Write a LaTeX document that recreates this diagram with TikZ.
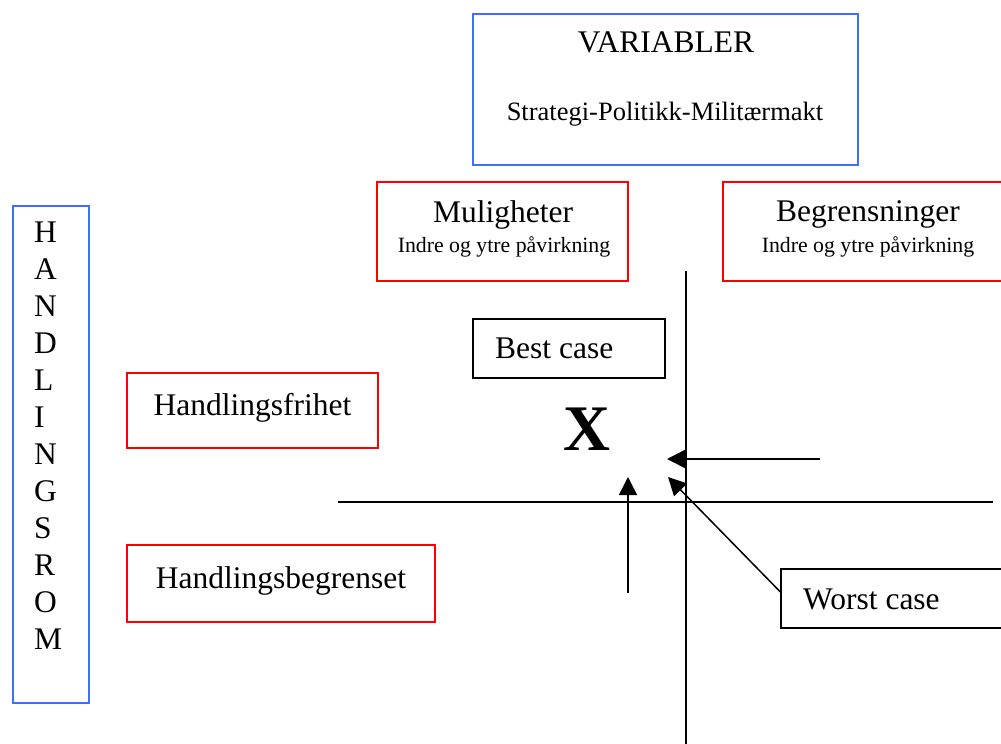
\documentclass[tikz,border=0pt]{standalone}
\usepackage{fontspec}
\setmainfont{Liberation Serif}
\usetikzlibrary{arrows.meta,calc}
\definecolor{boxred}{RGB}{255,0,0}
\definecolor{boxblue}{RGB}{60,110,255}
\begin{document}
\begin{tikzpicture}[x=1pt,y=-1pt,
  redbox/.style={draw=boxred,line width=2pt,inner sep=0pt},
  bluebox/.style={draw=boxblue,line width=2pt,inner sep=0pt},
  blackbox/.style={draw=black,line width=1.5pt,inner sep=0pt},
  bigtxt/.style={inner sep=0pt,font=\fontsize{31.5}{37}\selectfont},
  midtxt/.style={inner sep=0pt,font=\fontsize{26.5}{31}\selectfont},
  smalltxt/.style={inner sep=0pt,font=\fontsize{21.8}{26}\selectfont},
  xtxt/.style={inner sep=0pt,font=\fontsize{65}{70}\selectfont\bfseries},
  axis/.style={line width=1.5pt},
  arr/.style={line width=1.5pt,-{Triangle[length=18pt,width=18pt]}}
]
\useasboundingbox (0,0) rectangle (1001,744);
\clip (0,0) rectangle (1001,744);

% boxes
\node[bluebox,minimum width=385pt,minimum height=151pt] (var) at (665.5,89.5) {};
\node[redbox,minimum width=251pt,minimum height=99pt] (mul) at (502.5,231.5) {};
\node[redbox,minimum width=290pt,minimum height=99pt] (beg) at (868,231.5) {};
\node[bluebox,minimum width=76pt,minimum height=497pt] (hrom) at (51,454.5) {};
\node[blackbox,minimum width=192pt,minimum height=59pt] (best) at (569,348.5) {};
\node[redbox,minimum width=251pt,minimum height=75pt] (frihet) at (252.5,410.5) {};
\node[redbox,minimum width=308pt,minimum height=77pt] (begr) at (281,583.5) {};
\node[blackbox,minimum width=234pt,minimum height=59pt] (worst) at (898,598.5) {};

% texts
\node[bigtxt,anchor=base] (vart) at (666,52) {VARIABLER};
\node[midtxt,anchor=base] (vars) at (665,120) {Strategi-Politikk-Militærmakt};
\node[bigtxt,anchor=base] (mult) at (503,222) {Muligheter};
\node[smalltxt,anchor=base] (muls) at (504,252) {Indre og ytre påvirkning};
\node[bigtxt,anchor=base] (begt) at (868,221) {Begrensninger};
\node[smalltxt,anchor=base] (begs) at (868,252) {Indre og ytre påvirkning};
\node[bigtxt,anchor=north west,align=left] (hromt) at (34,222)
  {H\\A\\N\\D\\L\\I\\N\\G\\S\\R\\O\\M};
\node[bigtxt,anchor=base west] (bestt) at (495,358) {Best case};
\node[bigtxt,anchor=base] (frihett) at (252.5,415) {Handlingsfrihet};
\node[bigtxt,anchor=base] (begrt) at (281,588) {Handlingsbegrenset};
\node[bigtxt,anchor=base west] (worstt) at (803,609) {Worst case};
\node[xtxt,anchor=base] (xmark) at (587,450) {X};

% axes
\coordinate (vtop) at (686,271);
\coordinate (vbot) at (686,750);
\coordinate (hleft) at (338,502);
\coordinate (hright) at (993,502);
\draw[axis] (vtop) -- (vbot);
\draw[axis] (hleft) -- (hright);

% arrows
\coordinate (tail1) at (820,459);
\coordinate (tip1) at (667,459);
\coordinate (tail2) at (628,593);
\coordinate (tip2) at (628,477);
\coordinate (tip3) at (668,477);
\draw[arr] (tail1) -- (tip1);
\draw[arr] (tail2) -- (tip2);
\draw[arr] ($(worst.north west)!0.39!(worst.south west)$) -- (tip3);
\end{tikzpicture}
\end{document}
